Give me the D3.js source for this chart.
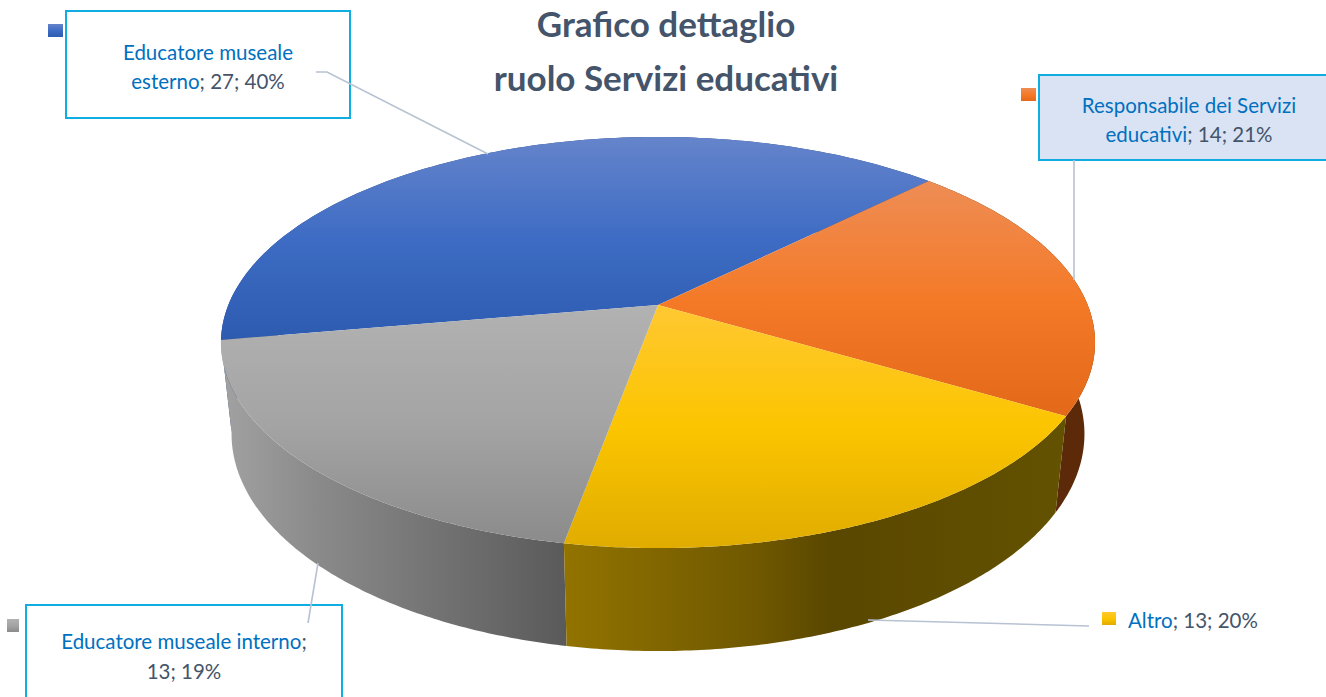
<!DOCTYPE html>
<html><head><meta charset="utf-8">
<script src="https://cdnjs.cloudflare.com/ajax/libs/d3/7.8.5/d3.min.js"></script>
<style>html,body{margin:0;padding:0;background:#fff;overflow:hidden}svg{display:block}text{font-family:Lato,"Noto Sans",sans-serif}</style>
</head><body><svg id="c" width="1326" height="697"></svg>
<script>
const titleLines = ["Grafico dettaglio", "ruolo Servizi educativi"];
const categories = ["Educatore museale esterno", "Responsabile dei Servizi educativi", "Altro", "Educatore museale interno"];
const values = [27, 14, 13, 13];
const percentLabels = ["40%", "21%", "20%", "19%"];
const labelNames = [["Educatore museale", "esterno"], ["Responsabile dei Servizi", "educativi"], ["Altro"], ["Educatore museale interno"]];
const topStops = [["#6584cb", "#3e6cc4", "#2c5bb0"], ["#ee8d55", "#f47a28", "#e3691a"], ["#ffc832", "#fcc500", "#e0ac00"], ["#b2b2b2", "#a4a4a4", "#8b8b8b"]];
const wallStops = [[[0, "#2c4a80"], [1, "#2c4a80"]],
  [[0, "#5c2a08"], [1, "#5c2a08"]],
  [[0, "#927300"], [0.39, "#6e5700"], [0.53, "#5a4700"], [1, "#635200"]],
  [[0, "#a2a2a2"], [0.28, "#8a8a8a"], [1, "#5a5a5a"]]];
const wallRange = [[221, 566], [1050, 1095], [566, 1067], [221, 566]];

const boxes = [
  {x: 66, y: 11, w: 284, h: 107, fill: "#fff"},
  {x: 1039, y: 75, w: 300, h: 85, fill: "#dae3f3"},
  {x: 26, y: 605, w: 316, h: 105, fill: "#fff"}
];
const labelLayout = [
  {cx: 208, ys: [60, 89], lx: 48, ly: 24, ls: 15},
  {cx: 1189, ys: [113, 142], lx: 1021, ly: 88, ls: 15},
  {x: 1128, ys: [628], lx: 1102, ly: 612, ls: 14},
  {cx: 184, ys: [649, 679], lx: 7, ly: 619, ls: 12}
];
const leaders = [
  [[316, 72], [327, 72], [488, 154]],
  [[1074, 160], [1074, 280]],
  [[868, 620], [1089, 626]],
  [[318, 563], [308, 623]]
];

const svg = d3.select("#c"), defs = svg.append("defs");
// camera: unit disk (u,v) at height z -> screen
const cam = {cx: 658, cy: 305, A: 429.7, B: 198.7, C: 92.5, k: -0.1825, m: 0.024};
function project(angle, r, z) {
  const u = r * Math.sin(angle), v = -r * Math.cos(angle);
  const w = 1 + cam.k * v + cam.m * z;
  return [cam.cx + cam.A * u / w, cam.cy + (cam.B * v + cam.C * z) / w];
}
const startDeg = 260.2;
const pie = d3.pie().sort(null).startAngle(startDeg * Math.PI / 180).endAngle((startDeg + 360) * Math.PI / 180);
const arcs = pie(values);
const line = d3.line();
const samples = (a, b) => d3.range(0, 121).map(i => a + (b - a) * i / 120);

arcs.forEach((d, i) => {
  const g = defs.append("linearGradient").attr("id", "top" + i).attr("x1", 0).attr("y1", 0).attr("x2", 0).attr("y2", 1);
  g.selectAll("stop").data(topStops[i]).join("stop").attr("offset", (c, j) => j / 2).attr("stop-color", c => c);
  const w = defs.append("linearGradient").attr("id", "wall" + i).attr("gradientUnits", "userSpaceOnUse")
    .attr("x1", wallRange[i][0]).attr("x2", wallRange[i][1]).attr("y1", 0).attr("y2", 0);
  w.selectAll("stop").data(wallStops[i]).join("stop").attr("offset", s => s[0]).attr("stop-color", s => s[1]);
});

// walls, back to front
const wallOrder = [0, 1, 3, 2];
svg.append("g").selectAll("path").data(wallOrder).join("path")
  .attr("fill", i => `url(#wall${i})`)
  .attr("d", i => {
    const as = samples(arcs[i].startAngle, arcs[i].endAngle);
    return line([...as.map(a => project(a, 1, 0)), ...as.slice().reverse().map(a => project(a, 1, 1))]) + "Z";
  });
// hull fill so the silhouette has no gap on the left side
// top faces
svg.append("g").selectAll("path").data(arcs).join("path")
  .attr("fill", (d, i) => `url(#top${i})`)
  .attr("d", d => line([[cam.cx, cam.cy], ...samples(d.startAngle, d.endAngle).map(a => project(a, 1, 0))]) + "Z");

// boxes
svg.append("g").selectAll("rect").data(boxes).join("rect")
  .attr("x", d => d.x).attr("y", d => d.y).attr("width", d => d.w).attr("height", d => d.h)
  .attr("fill", d => d.fill).attr("stroke", "#0fade2").attr("stroke-width", 2);
// leaders
svg.append("g").selectAll("path").data(leaders).join("path")
  .attr("d", d => line(d)).attr("fill", "none").attr("stroke", "#b7c2d2").attr("stroke-width", 1.6);

// legend keys
arcs.forEach((d, i) => {
  const L = labelLayout[i];
  svg.append("rect").attr("x", L.lx).attr("y", L.ly).attr("width", L.ls + (i === 3 ? 0 : 0)).attr("height", 13)
    .attr("fill", `url(#top${i})`);
});

// labels
const blue = "#0070c0", slate = "#44546a", fs = 20.5;
categories.forEach((c, i) => {
  const L = labelLayout[i], names = labelNames[i];
  const suffix = `; ${values[i]}; ${percentLabels[i]}`;
  const lines = [];
  if (i === 3) { lines.push([[names[0], blue], [";", slate]]); lines.push([[`${values[i]}; ${percentLabels[i]}`, slate]]); }
  else if (names.length === 2) { lines.push([[names[0], blue]]); lines.push([[names[1], blue], [suffix, slate]]); }
  else { lines.push([[names[0], blue], [suffix, slate]]); }
  lines.forEach((ln, j) => {
    const t = svg.append("text").attr("y", L.ys[j]).attr("font-size", fs)
      .attr("text-anchor", L.cx ? "middle" : "start").attr("x", L.cx || L.x);
    ln.forEach(s => t.append("tspan").attr("fill", s[1]).text(s[0]));
  });
});
// title
svg.append("g").selectAll("text").data(titleLines).join("text")
  .attr("x", 666).attr("y", (d, i) => 37 + i * 54).attr("text-anchor", "middle")
  .attr("font-size", 35).attr("font-weight", 700).attr("fill", slate).text(d => d);
</script></body></html>
